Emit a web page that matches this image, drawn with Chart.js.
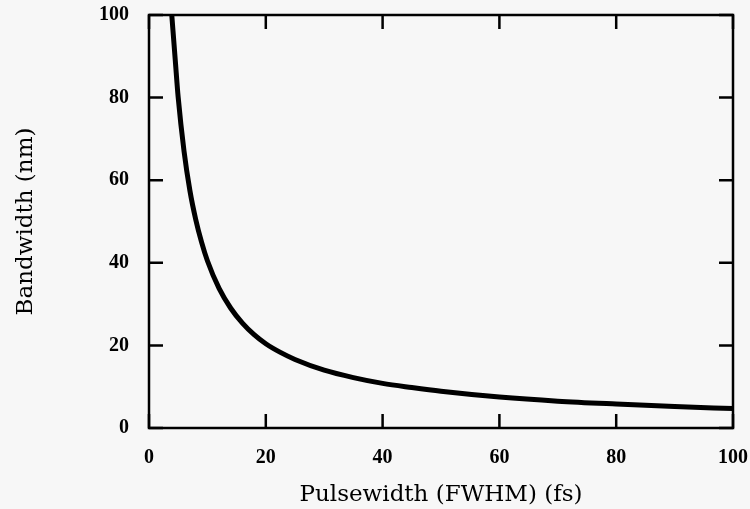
<!DOCTYPE html>
<html>
<head>
<meta charset="utf-8">
<script src="https://cdn.jsdelivr.net/npm/chart.js@4.4.1/dist/chart.umd.min.js"></script>
<style>
  html, body { margin: 0; padding: 0; background: #f7f7f7; }
  #wrap { width: 750px; height: 509px; position: relative; }
</style>
</head>
<body>
<div id="wrap"><canvas id="c" width="750" height="509"></canvas></div>
<script>
// Data
const pulsewidth = [3.9, 4.5, 5, 6, 7, 8, 9, 10, 12, 14, 16, 18, 20, 22.5, 25, 30, 35, 40, 45, 50, 60, 70, 80, 90, 100];
const bandwidth  = [100, 89, 80, 67, 57.5, 50.5, 45, 40.5, 33.8, 29, 25.4, 22.6, 20.4, 18.3, 16.6, 14, 12.2, 10.8, 9.8, 8.9, 7.5, 6.5, 5.8, 5.2, 4.7];
const xTicks = [0, 20, 40, 60, 80, 100];
const yTicks = [0, 20, 40, 60, 80, 100];
const xTitle = 'Pulsewidth (FWHM) (fs)';
const yTitle = 'Bandwidth (nm)';

const points = pulsewidth.map((x, i) => ({ x: x, y: bandwidth[i] }));

const frameAndTicks = {
  id: 'frameAndTicks',
  afterDatasetsDraw(chart) {
    const ctx = chart.ctx;
    const a = chart.chartArea;
    const xs = chart.scales.x, ys = chart.scales.y;
    const len = 14;
    ctx.save();
    ctx.strokeStyle = '#000';
    ctx.lineWidth = 2.5;
    ctx.lineCap = 'butt';
    ctx.strokeRect(a.left, a.top, a.right - a.left, a.bottom - a.top);
    ctx.beginPath();
    xTicks.forEach(v => {
      const px = xs.getPixelForValue(v);
      ctx.moveTo(px, a.bottom); ctx.lineTo(px, a.bottom - len);
      ctx.moveTo(px, a.top); ctx.lineTo(px, a.top + len);
    });
    yTicks.forEach(v => {
      const py = ys.getPixelForValue(v);
      ctx.moveTo(a.left, py); ctx.lineTo(a.left + len, py);
      ctx.moveTo(a.right, py); ctx.lineTo(a.right - len, py);
    });
    ctx.stroke();
    ctx.restore();
  }
};

new Chart(document.getElementById('c'), {
  type: 'line',
  data: {
    datasets: [{
      data: points,
      borderColor: '#000',
      borderWidth: 5,
      pointRadius: 0,
      cubicInterpolationMode: 'monotone',
      fill: false
    }]
  },
  options: {
    responsive: false,
    animation: false,
    layout: { autoPadding: false, padding: { top: 0, right: 0, left: 12, bottom: 0 } },
    plugins: { legend: { display: false }, tooltip: { enabled: false } },
    scales: {
      x: {
        type: 'linear', min: 0, max: 100,
        afterBuildTicks(s) { s.ticks = xTicks.map(v => ({ value: v })); },
        afterFit(s) { s.height = 81; s.paddingLeft = 0; s.paddingRight = 17; },
        grid: { display: false, drawTicks: false },
        border: { display: false },
        ticks: { padding: 18, color: '#000', font: { family: 'Liberation Serif', size: 20, weight: 'bold' } },
        title: { display: true, text: xTitle, color: '#000', padding: { top: 3, bottom: 0 },
                 font: { family: 'DejaVu Serif', size: 23 } }
      },
      y: {
        min: 0, max: 100,
        afterBuildTicks(s) { s.ticks = yTicks.map(v => ({ value: v })); },
        afterFit(s) { s.width = 137; s.paddingTop = 15; s.paddingBottom = 0; },
        grid: { display: false, drawTicks: false },
        border: { display: false },
        ticks: { padding: 20, color: '#000', font: { family: 'Liberation Serif', size: 20, weight: 'bold' } },
        title: { display: true, text: yTitle, color: '#000', padding: { top: 0, bottom: 0 },
                 font: { family: 'DejaVu Serif', size: 23 } }
      }
    }
  },
  plugins: [frameAndTicks]
});
</script>
</body>
</html>
